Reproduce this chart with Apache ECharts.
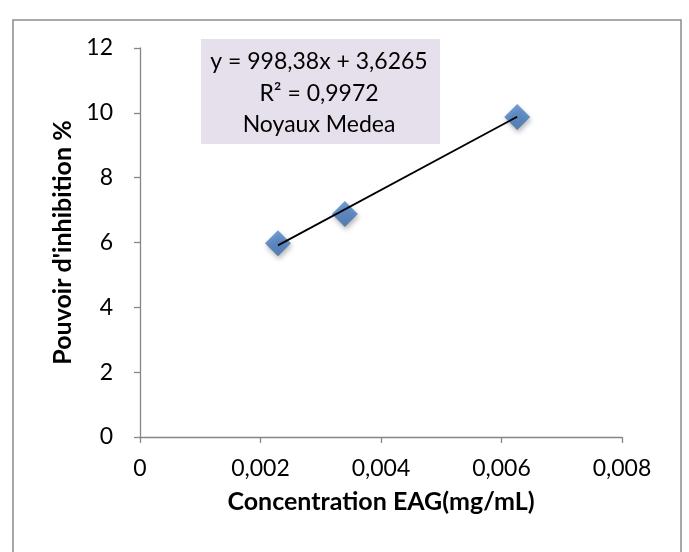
<!DOCTYPE html>
<html>
<head>
<meta charset="utf-8">
<script src="https://cdn.jsdelivr.net/npm/echarts@6/dist/echarts.min.js"></script>
<style>html,body{margin:0;padding:0;background:#fff}#c{width:689px;height:552px}</style>
</head>
<body>
<div id="c"></div>
<script>
// Data
const concentrations = [0.00229, 0.00340, 0.00626];
const inhibition = [5.98, 6.88, 9.87];
const trendX = [0.00229, 0.00626];
const trendY = [5.91, 9.88];
const xTicks = ['0', '0,002', '0,004', '0,006', '0,008'];
const yTicks = ['0', '2', '4', '6', '8', '10', '12'];
const boxLines = ['y = 998,38x + 3,6265', 'R² = 0,9972', 'Noyaux Medea'];
const xTitle = 'Concentration EAG(mg/mL)';
const yTitle = "Pouvoir d'inhibition %";

const FONT = 'Lato';
const chart = echarts.init(document.getElementById('c'), null, {renderer: 'canvas'});
chart.setOption({
  animation: false,
  backgroundColor: '#fff',
  grid: {left: 140, right: 67, top: 48, bottom: 115, containLabel: false},
  xAxis: {
    type: 'value', min: 0, max: 0.008, interval: 0.002,
    axisLine: {show: true, lineStyle: {color: '#868686', width: 1.3}},
    axisTick: {show: true, length: 6, lineStyle: {color: '#868686', width: 1.3}},
    splitLine: {show: false},
    axisLabel: {color: '#000', fontFamily: FONT, fontSize: 23, margin: 20,
      formatter: (v) => xTicks[Math.round(v / 0.002)]},
    name: xTitle, nameLocation: 'middle', nameGap: 52,
    nameTextStyle: {color: '#000', fontFamily: FONT, fontWeight: 'bold', fontSize: 25}
  },
  yAxis: {
    type: 'value', min: 0, max: 12, interval: 2,
    axisLine: {show: true, lineStyle: {color: '#868686', width: 1.3}},
    axisTick: {show: true, length: 6, lineStyle: {color: '#868686', width: 1.3}},
    splitLine: {show: false},
    axisLabel: {color: '#000', fontFamily: FONT, fontSize: 23, margin: 27,
      formatter: (v) => yTicks[Math.round(v / 2)]},
    name: yTitle, nameLocation: 'middle', nameGap: 63,
    nameTextStyle: {color: '#000', fontFamily: FONT, fontWeight: 'bold', fontSize: 25}
  },
  graphic: [
    {type: 'rect', z: -10, shape: {x: 13, y: 20, width: 668, height: 560},
      style: {fill: 'none', stroke: '#8c8c8c', lineWidth: 1.5}},
    {type: 'rect', z: 10, shape: {x: 201, y: 39, width: 239, height: 105},
      style: {fill: '#E6E0EC'}},
    {type: 'text', z: 11, style: {x: 319, y: 62, text: boxLines[0], align: 'center', verticalAlign: 'middle', font: '23px ' + FONT, fill: '#000'}},
    {type: 'text', z: 11, style: {x: 319, y: 94, text: boxLines[1], align: 'center', verticalAlign: 'middle', font: '23px ' + FONT, fill: '#000'}},
    {type: 'text', z: 11, style: {x: 319, y: 125, text: boxLines[2], align: 'center', verticalAlign: 'middle', font: '23px ' + FONT, fill: '#000'}}
  ],
  series: [
    {
      type: 'scatter', z: 3,
      data: concentrations.map((x, i) => [x, inhibition[i]]),
      symbol: 'diamond', symbolSize: 26,
      itemStyle: {
        color: new echarts.graphic.LinearGradient(0, 0, 0, 1, [
          {offset: 0, color: '#4d86cc'}, {offset: 1, color: '#3a6cad'}]),
        shadowColor: 'rgba(0,0,0,0.35)', shadowBlur: 5, shadowOffsetY: 3, shadowOffsetX: 1
      }
    },
    {
      type: 'line', z: 4,
      data: trendX.map((x, i) => [x, trendY[i]]),
      symbol: 'none', lineStyle: {color: '#000', width: 1.8}
    }
  ]
});
</script>
</body>
</html>
